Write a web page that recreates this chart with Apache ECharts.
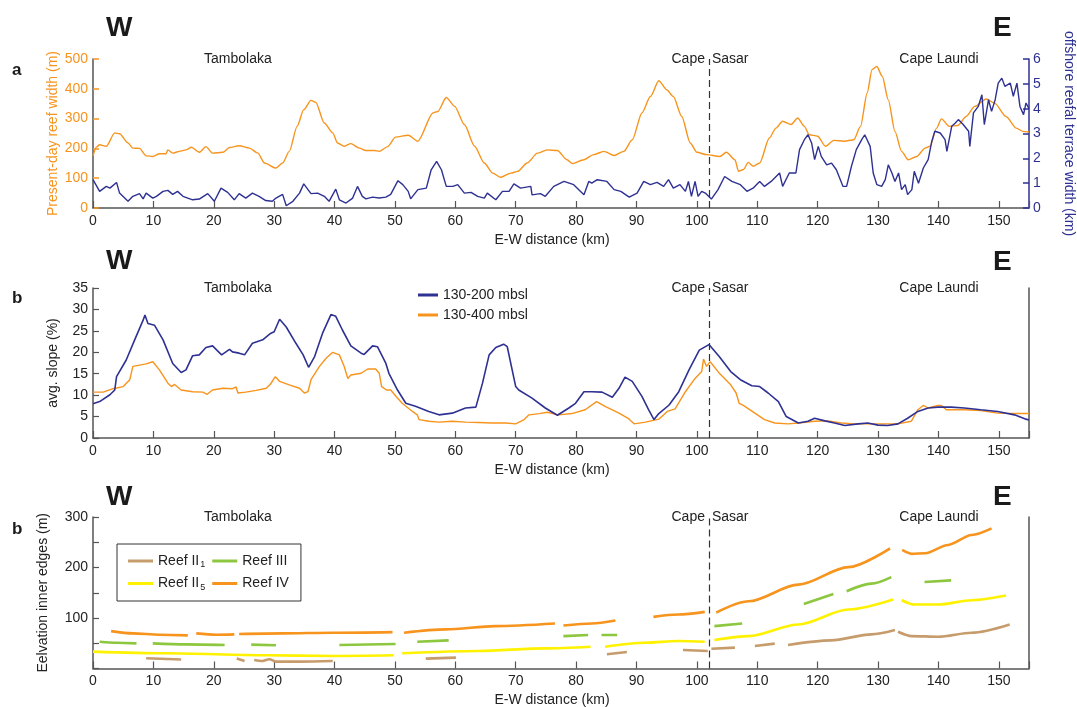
<!DOCTYPE html>
<html><head><meta charset="utf-8">
<script src="https://cdn.jsdelivr.net/npm/echarts@6/dist/echarts.min.js"></script>
<style>html,body{margin:0;padding:0;background:#fff}#c{width:1077px;height:707px}</style>
</head><body><div id="c"></div>
<script>
// ---------- Panel a : present-day reef width (m) ----------
const reefWidthKm = [0,0.6,1.1,2.2,3.6,4.4,5.8,6.6,7.7,8.8,9.9,11,12.1,12.4,13.2,14.3,15.4,16.3,17.6,18.7,19.8,21.5,22.6,24.2,25.9,27.3,28.4,30.3,31.4,32.5,33.8,34.9,36.1,36.9,38.3,39.7,40.5,41.6,42.7,44.1,45.2,46.6,47.4,48.8,50.1,52.2,53.8,56.3,57.1,58.5,59.9,61.5,63.2,64.8,66.2,67.5,69.2,70.3,71.9,73.6,75.2,76.9,78.5,79.4,81.3,82.9,84.6,86.3,87.9,89.3,90.9,92.3,93.7,95.0,96.1,97.5,98.9,100,101.6,103.8,104.9,106.3,106.9,107.7,108.5,109.3,110.4,112.0,113.1,114.2,115.6,116.7,117.8,118.6,120,121.3,122.7,124.4,126.0,127.1,128.2,129.0,129.8,130.7,131.7,132.8,133.9,135.0,136.4,137.8,138.6,139.7,140.5,141.8,143.2,144.6,146.0,147.9,149.3,151.2,152.9,154.0,155];
const reefWidthM = [175,205,212,207,252,249,218,201,200,175,173,182,182,195,184,190,195,204,187,206,184,187,203,209,201,184,151,134,151,190,274,330,361,354,285,252,218,207,216,201,193,193,190,206,238,244,224,319,324,371,341,280,207,151,117,103,117,123,151,184,195,193,162,149,162,179,190,176,190,229,319,374,427,397,374,307,218,187,179,173,187,162,123,129,153,140,151,235,268,291,280,302,274,246,241,207,227,224,229,274,386,464,475,442,363,257,190,162,173,201,207,268,299,274,277,307,341,366,352,307,268,257,255];

// ---------- Panel a : offshore reefal terrace width (km) ----------
const terraceKm = [0,1.1,2.2,2.8,3.9,4.4,5.8,6.6,7.7,8.3,8.8,9.9,10.5,11.6,12.4,13.2,14.0,14.9,16.5,17.6,19.0,20.1,21.2,22.3,23.4,24.2,25.3,26.4,27.5,28.6,29.7,30.3,31.4,32.0,33.1,34.2,34.9,36.1,37.2,38.3,39.1,40.2,40.8,41.9,43.0,43.8,44.6,45.2,46.3,47.4,48.5,49.3,50.5,51.3,52.2,52.6,53.8,55.2,56.0,56.9,57.7,58.5,59.6,60.4,61.5,62.6,63.7,64.8,65.3,66.7,67.8,68.9,69.7,70.8,72.5,72.7,74.1,74.9,76.3,78.0,79.6,81.3,82.1,82.6,83.5,85.1,86.3,87.4,88.8,90.1,91.2,92.3,93.4,94.5,95.3,96.1,97.2,98.1,98.6,99.1,99.7,100.2,100.8,101.4,102.4,103.5,104.6,105.8,107.2,108.3,109.3,110.4,111.2,112.3,113.7,114.2,115.3,116.4,117.0,117.8,118.4,119.0,119.5,120.1,120.6,121.5,122.3,123.1,124.2,124.8,125.6,126.4,127.3,127.8,128.7,129.2,129.8,130.6,131.2,131.7,132.3,132.8,133.4,133.9,134.5,134.9,135.6,136.0,136.7,137.5,138.3,138.9,139.4,140.3,141.1,141.4,142.2,142.8,143.3,144.1,145.0,145.2,145.8,146.6,147.2,147.6,148.3,148.8,149.4,149.9,150.5,151.0,151.9,152.4,153.0,153.5,154.1,154.5,155];
const terraceWidth = [1.14,0.67,0.87,0.8,1.03,0.6,0.27,0.47,0.58,0.37,0.6,0.4,0.47,0.67,0.71,0.55,0.67,0.47,0.33,0.36,0.58,0.27,0.8,0.63,0.33,0.58,0.4,0.6,0.47,0.3,0.27,0.4,0.55,0.09,0.27,0.6,0.97,0.58,0.6,0.47,0.27,0.76,0.33,0.2,0.4,0.87,0.47,0.37,0.44,0.4,0.44,0.55,1.1,0.94,0.67,0.37,0.74,0.8,1.54,1.88,1.54,0.87,0.87,0.94,0.6,0.63,0.47,0.4,0.6,0.33,0.67,0.67,0.97,0.8,0.87,0.53,0.58,0.47,0.87,1.07,0.94,0.53,1.07,1.0,1.14,1.07,0.74,0.67,0.44,0.6,1.07,0.94,1.03,0.87,1.14,0.8,0.94,0.67,1.07,0.47,1.07,0.47,0.67,0.6,0.36,0.74,1.27,1.07,0.94,0.67,0.8,1.07,0.87,1.07,1.41,0.87,1.41,1.41,2.35,2.75,2.95,2.62,1.95,2.48,2.08,1.74,1.81,1.54,0.87,0.87,1.68,2.35,2.75,2.95,2.48,1.41,0.94,0.87,1.14,1.74,1.41,1.07,1.41,0.74,0.94,0.54,0.74,1.48,1.0,1.61,1.95,2.68,3.09,3.02,2.75,2.28,3.29,3.42,3.56,3.36,3.09,2.48,3.83,4.09,4.56,3.36,4.36,3.89,4.36,5.03,5.23,4.9,5.03,4.5,5.03,4.09,3.76,4.23,4.0];

// ---------- Panel b : avg. slope (%) ----------
const slope200Km = [0,1.1,2.8,3.6,3.9,5.5,6.9,8.3,8.6,9.1,10.2,11.6,13.2,14.6,15.4,16.5,17.6,18.7,19.8,21.3,22.6,23.1,24.2,25.1,26.4,28.1,29.4,30.0,30.9,32.0,33.6,34.8,35.7,36.7,38.0,39.4,40.2,41.3,42.7,44.4,44.9,46.3,47.1,48.5,49.0,50.3,51.8,53.4,55.6,57.3,59.5,61.7,63.4,64.5,65.6,66.7,68.0,68.6,70.0,70.5,72.7,74.9,76.9,78.8,79.9,81.3,82.6,84.3,86.0,87.1,88.1,89.3,90.9,92.0,92.9,93.7,95.4,97.0,98.7,100.4,102.0,103.7,105.6,107.2,109.1,110.4,111.8,113.5,114.8,116.8,118.4,119.5,121.2,122.8,124.5,126.7,128.3,130.0,131.6,133.3,134.9,136.6,138.3,139.9,142.1,144.3,147.0,149.8,152.6,154.5,155];
const slope200 = [7.98,8.5,10.1,11.2,14.3,18.2,22.9,27.5,28.7,26.7,26.3,22.9,17.4,15.3,15.9,19.2,19.4,21.1,21.5,19.4,20.7,20.1,19.8,19.4,22.1,22.9,24.4,24.8,27.7,25.9,22.1,19.4,16.5,19.0,24.4,28.8,28.4,25.2,21.5,19.8,19.5,21.5,21.3,17.4,15.1,11.5,8.1,7.4,6.2,5.4,5.8,7.0,7.2,12.8,19.4,21.1,21.9,21.3,12.0,11.2,9.3,7.0,5.3,7.0,8.1,10.8,10.8,10.7,9.5,11.6,14.2,13.2,9.7,6.6,4.3,5.7,7.7,10.8,15.9,20.5,21.8,19.0,15.5,13.6,12.2,12.0,10.5,8.5,5.0,3.5,3.9,4.6,4.0,3.5,2.9,3.3,3.5,3.0,2.9,3.3,4.6,6.2,7.0,7.2,7.2,7.0,6.6,6.2,5.4,4.4,4.2];
const slope400Km = [0,1.7,3.3,5.0,6.1,6.6,7.7,8.8,9.9,11.0,12.4,13.0,13.5,14.6,16.5,18.2,18.9,19.8,21.5,23.1,23.7,24.0,25.3,27.0,28.7,29.4,30.2,30.9,32.5,34.2,35.0,35.6,36.1,37.5,38.6,39.7,40.8,41.6,42.2,42.7,44.4,45.5,46.8,47.4,47.8,48.6,49.3,50.2,51.2,52.9,53.7,54.0,55.6,57.3,59.5,61.7,63.9,66.1,68.3,70.0,71.4,72.2,73.9,75.2,77.1,79.3,81.5,83.4,84.8,87.1,88.7,89.6,91.5,93.7,95.1,96.4,98.1,99.7,100.8,101.1,101.6,102.2,103.6,105.6,106.5,107.0,107.7,109.6,111.2,112.9,115.1,116.8,119.5,121.7,123.9,126.1,128.3,130.5,133.3,135.5,136.6,137.5,138.3,139.9,140.5,141.3,144.3,147.0,149.8,152.6,155];
const slope400 = [10.7,10.7,11.5,12.0,13.6,16.7,17.0,17.3,17.8,15.9,12.8,12.0,12.5,11.2,10.8,10.7,10.2,11.2,11.6,11.5,11.9,10.5,10.7,11.1,11.6,12.6,14.3,13.2,12.4,11.6,10.5,10.8,13.6,16.7,18.6,20.0,19.4,16.7,13.9,14.7,15.1,16.1,16.1,15.1,12.0,11.2,11.2,9.7,8.1,6.2,5.4,4.3,3.9,3.7,3.9,3.7,3.6,3.5,3.5,3.3,4.3,5.4,5.7,6.0,5.4,5.7,6.6,8.5,7.4,5.8,4.5,3.3,3.7,4.4,6.2,6.8,10.8,13.9,15.5,18.4,16.7,17.8,15.3,12.4,10.5,8.1,7.6,5.8,4.3,3.5,3.3,3.5,3.9,4.0,3.5,3.3,3.3,3.3,3.3,3.9,6.6,7.6,7.0,7.6,7.6,6.6,6.6,6.4,5.8,5.7,5.7];

// ---------- Panel c : elevation of inner edges (m); null = gap ----------
const reefII1Km = [8.8,14.6,null,23.8,25.1,null,26.7,28.1,29.2,30.3,34.2,39.7,null,55.1,60.1,null,85.1,88.4,null,97.7,101.8,null,102.4,106.3,null,109.6,112.9,null,115.1,122.2,128.9,132.8,null,133.3,135.6,140.0,145.5,151.8];
const reefII1M  = [20.3,17.7,null,19.6,15.0,null,17.0,15.0,18.3,13.7,13.7,15.0,null,19.6,21.6,null,28.2,32.7,null,36.7,34.7,null,39.0,41.3,null,44.6,49.2,null,46.5,55.7,67.5,76.1,null,72.8,64.2,62.9,70.8,87.2];
const reefII5Km = [0,12.1,28.6,39.7,49.8,null,51.2,63.8,74.9,82.4,null,84.8,91.5,96.9,101.3,null,102.9,108.6,116.8,125.1,132.5,null,133.9,136.1,140.0,145.5,151.2];
const reefII5M  = [33.4,30.1,26.2,24.9,26.2,null,30.1,34.7,39.9,43.2,null,43.2,51.1,54.4,53.1,null,56.4,64.2,87.2,116.8,136.5,null,135.2,126.6,126.6,135.2,144.4];
const reefIIIKm = [1.1,3.9,7.2,null,9.9,15.4,21.8,null,26.2,30.3,null,40.8,50.1,null,53.7,58.9,null,77.9,82.0,null,84.2,86.8,null,102.9,107.5,null,117.7,122.6,null,124.8,128.9,132.2,null,137.7,142.1];
const reefIIIM  = [53.1,51.1,49.8,null,49.8,47.8,46.5,null,47.2,45.9,null,46.5,48.5,null,53.1,55.7,null,64.2,66.2,null,66.2,66.2,null,83.9,89.2,null,127.9,147.6,null,152.9,168.0,181.0,null,171.2,174.5];
const reefIVKm  = [3.0,6.6,11.0,15.7,null,17.1,20.4,23.4,null,24.2,31.4,39.7,49.6,null,51.5,58.4,66.6,76.5,null,77.9,82.6,86.5,null,92.8,96.9,101.3,null,103.2,108.6,116.8,125.1,132.0,null,134.0,135.6,137.8,141.6,145.5,148.8];
const reefIVM   = [74.0,69.5,66.9,65.6,null,69.5,66.9,67.5,null,68.2,69.5,70.8,72.1,null,70.8,77.4,84.0,89.2,null,85.2,89.2,95.1,null,102.3,106.9,112.1,null,110.8,133.2,166.0,200.7,238.0,null,234.8,227.0,228.3,244.7,264.4,277.5];

// ---------- annotations ----------
const capeSasarKm = 102;
const tambolakaKm = 24;
const capeLaundiKm = 140.1;
const xTicks = [0,10,20,30,40,50,60,70,80,90,100,110,120,130,140,150];

const ORANGE = '#F7941D', NAVY = '#2E3192';
const TAN = '#C69C6D', GREEN = '#8DC63F', YELLOW = '#FFF200', REEF4 = '#F7941D';
const FONT = '"Liberation Sans", Arial, Helvetica, sans-serif';
const AX = '#555';

function zip(xs, ys) { return xs.map((x, i) => (x == null || ys[i] == null) ? ['-', '-'] : [x, ys[i]]); }

const chart = echarts.init(document.getElementById('c'), null, {renderer: 'canvas'});

const grids = [
  {left: 93, right: 48, top: 59, height: 149, outerBoundsMode: 'none', containLabel: false},
  {left: 93, right: 48, top: 288, height: 150, outerBoundsMode: 'none', containLabel: false},
  {left: 93, right: 48, top: 517, height: 151.5, outerBoundsMode: 'none', containLabel: false}
];

function xAx(i) {
  return {
    type: 'value', gridIndex: i, min: 0, max: 155, interval: 10,
    name: 'E-W distance (km)', nameLocation: 'middle', nameGap: 25, nameMoveOverlap: false,
    nameTextStyle: {color: '#222', fontSize: 14, fontFamily: FONT, padding: [0, 18, 0, 0]},
    axisLine: {show: true, onZero: false, lineStyle: {color: AX, width: 1.5}},
    axisTick: {show: true, inside: true, length: 7, lineStyle: {color: AX, width: 1.2}},
    axisLabel: {color: '#222', fontSize: 14, fontFamily: FONT, margin: 6,
      formatter: v => xTicks.indexOf(v) >= 0 ? String(v) : ''},
    splitLine: {show: false}
  };
}
function borderAx(i) {
  return {type: 'value', gridIndex: i, position: 'right', min: 0, max: 1,
    axisLine: {show: true, onZero: false, lineStyle: {color: AX, width: 1.5}},
    axisTick: {show: false}, axisLabel: {show: false}, splitLine: {show: false}};
}

const dashed = {
  symbol: 'none', silent: true, label: {show: false},
  lineStyle: {color: '#333', width: 1.2, type: [7, 4]},
  data: [{xAxis: capeSasarKm}]
};

const option = {
  backgroundColor: '#fff',
  animation: false,
  textStyle: {fontFamily: FONT},
  grid: grids,
  xAxis: [xAx(0), xAx(1), xAx(2)],
  yAxis: [
    {type: 'value', gridIndex: 0, min: 0, max: 500, interval: 100, position: 'left',
      name: 'Present-day reef width (m)', nameLocation: 'middle', nameGap: 33, nameMoveOverlap: false,
      nameTextStyle: {color: ORANGE, fontSize: 14, fontFamily: FONT},
      axisLine: {show: true, onZero: false, lineStyle: {color: AX, width: 1.5}},
      axisTick: {show: true, inside: true, length: 6, lineStyle: {color: ORANGE, width: 1.5}},
      axisLabel: {color: ORANGE, fontSize: 14, fontFamily: FONT, margin: 5},
      splitLine: {show: false}},
    {type: 'value', gridIndex: 0, min: 0, max: 6, interval: 1, position: 'right',
      name: 'offshore reefal terrace width (km)', nameLocation: 'middle', nameGap: 33, nameRotate: -90,
      nameTextStyle: {color: NAVY, fontSize: 14, fontFamily: FONT},
      axisLine: {show: true, onZero: false, lineStyle: {color: NAVY, width: 1.5}},
      axisTick: {show: true, inside: true, length: 6, lineStyle: {color: NAVY, width: 1.5}},
      axisLabel: {color: NAVY, fontSize: 14, fontFamily: FONT, margin: 4},
      splitLine: {show: false}},
    {type: 'value', gridIndex: 1, min: 0, max: 35, interval: 5, position: 'left',
      name: 'avg. slope (%)', nameLocation: 'middle', nameGap: 33, nameMoveOverlap: false,
      nameTextStyle: {color: '#222', fontSize: 14, fontFamily: FONT},
      axisLine: {show: true, onZero: false, lineStyle: {color: AX, width: 1.5}},
      axisTick: {show: true, inside: true, length: 6, lineStyle: {color: AX, width: 1.2}},
      axisLabel: {color: '#222', fontSize: 14, fontFamily: FONT, margin: 5},
      splitLine: {show: false}},
    borderAx(1),
    {type: 'value', gridIndex: 2, min: 0, max: 300, interval: 50, position: 'left',
      name: 'Eelvation inner edges (m)', nameLocation: 'middle', nameGap: 43, nameMoveOverlap: false,
      nameTextStyle: {color: '#222', fontSize: 14, fontFamily: FONT},
      axisLine: {show: true, onZero: false, lineStyle: {color: AX, width: 1.5}},
      axisTick: {show: true, inside: true, length: 6, lineStyle: {color: AX, width: 1.2}},
      axisLabel: {color: '#222', fontSize: 14, fontFamily: FONT, margin: 5,
        formatter: v => (v > 0 && v % 100 === 0) ? String(v) : ''},
      splitLine: {show: false}},
    borderAx(2)
  ],
  legend: [
    {data: ['130-200 mbsl', '130-400 mbsl'], orient: 'vertical', left: 413, top: 283,
      itemWidth: 20, itemHeight: 3, itemGap: 6, icon: 'rect',
      textStyle: {fontSize: 14, color: '#222', fontFamily: FONT}, selectedMode: false},
    {data: ['Reef II1', 'Reef III', 'Reef II5', 'Reef IV'], orient: 'horizontal', left: 117, top: 544,
      width: 168, itemWidth: 25, itemHeight: 3, itemGap: 7, padding: [10, 12, 9, 11], icon: 'rect',
      borderColor: '#333', borderWidth: 1, selectedMode: false,
      formatter: n => n === 'Reef II1' ? '{b|Reef II}{s|1}' : (n === 'Reef II5' ? '{b|Reef II}{s|5}' : '{b|' + n + '}'),
      textStyle: {fontSize: 14, color: '#222', fontFamily: FONT,
        rich: {b: {fontSize: 14, color: '#222', fontFamily: FONT},
               s: {fontSize: 9, color: '#222', fontFamily: FONT, padding: [8, 0, 0, 1]}}}}
  ],
  series: [
    {name: 'Present-day reef width', type: 'line', xAxisIndex: 0, yAxisIndex: 0,
      data: zip(reefWidthKm, reefWidthM), symbol: 'none', smooth: 0.25, smoothMonotone: 'x',
      lineStyle: {color: ORANGE, width: 1.4}, itemStyle: {color: ORANGE}, markLine: dashed},
    {name: 'offshore reefal terrace width', type: 'line', xAxisIndex: 0, yAxisIndex: 1,
      data: zip(terraceKm, terraceWidth), symbol: 'none',
      lineStyle: {color: NAVY, width: 1.4}, itemStyle: {color: NAVY}},
    {name: '130-400 mbsl', type: 'line', xAxisIndex: 1, yAxisIndex: 2,
      data: zip(slope400Km, slope400), symbol: 'none',
      lineStyle: {color: ORANGE, width: 1.4}, itemStyle: {color: ORANGE}, markLine: dashed},
    {name: '130-200 mbsl', type: 'line', xAxisIndex: 1, yAxisIndex: 2,
      data: zip(slope200Km, slope200), symbol: 'none',
      lineStyle: {color: NAVY, width: 1.6}, itemStyle: {color: NAVY}},
    {name: 'Reef II1', type: 'line', xAxisIndex: 2, yAxisIndex: 4,
      data: zip(reefII1Km, reefII1M), symbol: 'none', smooth: 0.3, smoothMonotone: 'x', connectNulls: false,
      lineStyle: {color: TAN, width: 2.6}, itemStyle: {color: TAN}, markLine: dashed},
    {name: 'Reef III', type: 'line', xAxisIndex: 2, yAxisIndex: 4,
      data: zip(reefIIIKm, reefIIIM), symbol: 'none', smooth: 0.3, smoothMonotone: 'x', connectNulls: false,
      lineStyle: {color: GREEN, width: 2.6}, itemStyle: {color: GREEN}},
    {name: 'Reef II5', type: 'line', xAxisIndex: 2, yAxisIndex: 4,
      data: zip(reefII5Km, reefII5M), symbol: 'none', smooth: 0.3, smoothMonotone: 'x', connectNulls: false,
      lineStyle: {color: YELLOW, width: 2.6}, itemStyle: {color: YELLOW}},
    {name: 'Reef IV', type: 'line', xAxisIndex: 2, yAxisIndex: 4,
      data: zip(reefIVKm, reefIVM), symbol: 'none', smooth: 0.3, smoothMonotone: 'x', connectNulls: false,
      lineStyle: {color: REEF4, width: 2.6}, itemStyle: {color: REEF4}}
  ]
};
chart.setOption(option);

// text annotations placed through the axes
function txt(text, x, y, font, align, color) {
  return {type: 'text', silent: true, z: 100,
    style: {text: text, x: x, y: y, font: font, fill: color || '#222',
      textAlign: align, align: align, textVerticalAlign: 'middle', verticalAlign: 'middle'}};
}
const g = [];
const placeFont = '14px ' + FONT;
[0, 1, 2].forEach(i => {
  const top = grids[i].top;
  const xT = chart.convertToPixel({xAxisIndex: i}, tambolakaKm);
  const xS = chart.convertToPixel({xAxisIndex: i}, capeSasarKm);
  const xL = chart.convertToPixel({xAxisIndex: i}, capeLaundiKm);
  g.push(txt('Tambolaka', xT, top, placeFont, 'center'));
  g.push(txt('Cape', xS - 4, top, placeFont, 'right'));
  g.push(txt('Sasar', xS + 3, top, placeFont, 'left'));
  g.push(txt('Cape Laundi', xL, top, placeFont, 'center'));
});
const bigFont = 'bold 28px ' + FONT;
const panelFont = 'bold 17px ' + FONT;
g.push(txt('W', 106, 28, bigFont, 'left', '#1a1a1a'));
g.push(txt('E', 993, 28, bigFont, 'left', '#1a1a1a'));
g.push(txt('W', 106, 261, bigFont, 'left', '#1a1a1a'));
g.push(txt('E', 993, 262, bigFont, 'left', '#1a1a1a'));
g.push(txt('W', 106, 497, bigFont, 'left', '#1a1a1a'));
g.push(txt('E', 993, 497, bigFont, 'left', '#1a1a1a'));
g.push(txt('a', 12, 70, panelFont, 'left', '#1a1a1a'));
g.push(txt('b', 12, 298, panelFont, 'left', '#1a1a1a'));
g.push(txt('b', 12, 529, panelFont, 'left', '#1a1a1a'));
chart.setOption({graphic: {elements: g}});
</script></body></html>
